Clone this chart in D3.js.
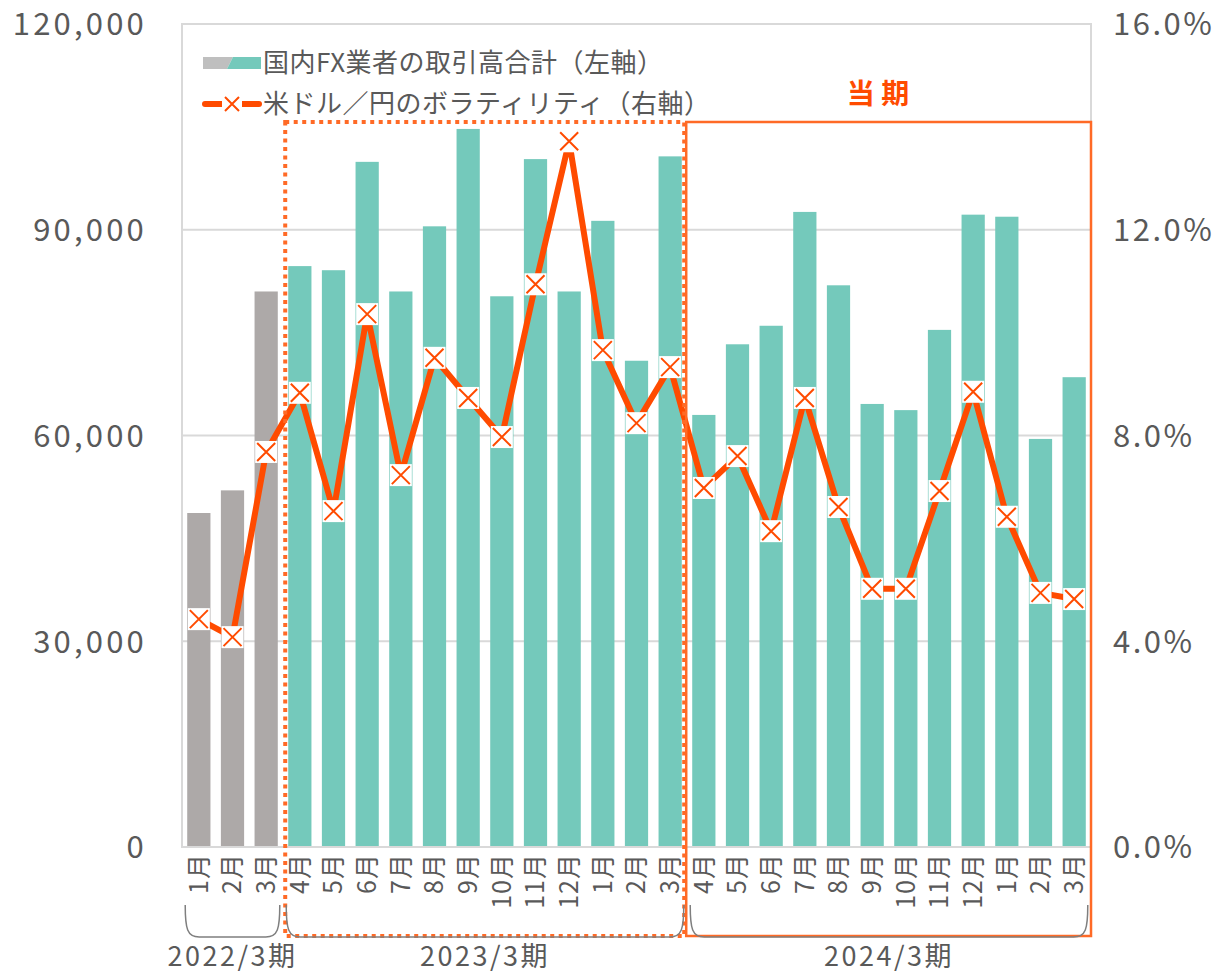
<!DOCTYPE html>
<html>
<head>
<meta charset="utf-8">
<script src="https://cdn.jsdelivr.net/npm/d3@7"></script>
<style>
  body { margin: 0; background: #fff; }
  svg text { font-family: "Noto Sans CJK JP", "Noto Sans", sans-serif; fill: #595959; }
</style>
</head>
<body>
<svg id="chart" width="1217" height="974"></svg>
<script>
// data
const months = ["1月","2月","3月","4月","5月","6月","7月","8月","9月","10月","11月","12月","1月","2月","3月",
                "4月","5月","6月","7月","8月","9月","10月","11月","12月","1月","2月","3月"];
const volume = [48700, 52000, 81000, 84700, 84100, 99900, 81000, 90500, 104700, 80300, 100300, 81000, 91300, 70900, 100700,
                63000, 73300, 76000, 92600, 81900, 64600, 63700, 75400, 92200, 91900, 59500, 68500];
const volatility = [4.43, 4.08, 7.68, 8.83, 6.53, 10.36, 7.23, 9.51, 8.73, 7.97, 10.94, 13.72, 9.66, 8.24, 9.33,
                    6.98, 7.60, 6.14, 8.73, 6.61, 5.02, 5.02, 6.92, 8.85, 6.42, 4.94, 4.82];
const periods = ["2022/3期", "2023/3期", "2024/3期"];
const periodStart = [0, 3, 15];
const periodEnd = [2, 14, 26];
const leftTicks = [0, 30000, 60000, 90000, 120000];
const rightTicks = [0, 4, 8, 12, 16];
const legendLabels = ["国内FX業者の取引高合計（左軸）", "米ドル／円のボラティリティ（右軸）"];

(function(){
  const margin = {top: 24, right: 126, bottom: 127, left: 182};
  const width = 1217 - margin.left - margin.right,
        height = 974 - margin.top - margin.bottom;

  const teal = "#74C9BB", grey = "#ADA9A8", orange = "#FF4B00", boxOrange = "#FF6A26";

  const svg = d3.select("#chart")
    .append("g")
    .attr("transform", "translate(" + margin.left + "," + margin.top + ")");

  const idx = d3.range(months.length);
  const xScale = d3.scaleBand().domain(idx).range([0, width]).paddingInner(0.31).paddingOuter(0.155);
  const yScale = d3.scaleLinear().domain([0, 120000]).range([height, 0]);
  const y2Scale = d3.scaleLinear().domain([0, 16]).range([height, 0]);

  // gridlines
  svg.selectAll(".grid")
    .data(leftTicks.slice(1, -1))
    .enter().append("line")
      .attr("x1", 0).attr("x2", width)
      .attr("y1", d => yScale(d)).attr("y2", d => yScale(d))
      .attr("stroke", "#d9d9d9").attr("stroke-width", 2);

  // plot frame
  svg.append("rect")
    .attr("width", width).attr("height", height)
    .attr("fill", "none").attr("stroke", "#d9d9d9").attr("stroke-width", 2);

  // left axis
  const yAxis = d3.axisLeft(yScale).tickValues(leftTicks).tickSize(0).tickPadding(35)
    .tickFormat(d3.format(","));
  svg.append("g").call(yAxis)
    .call(g => g.select(".domain").remove())
    .selectAll("text").style("font-size", "31px").style("letter-spacing", "3.2px")
      .attr("fill", "#595959").attr("dy", "0.35em");

  // right axis
  const y2Axis = d3.axisRight(y2Scale).tickValues(rightTicks).tickSize(0).tickPadding(22)
    .tickFormat(d => d.toFixed(1) + "%");
  svg.append("g").attr("transform", "translate(" + width + ",0)").call(y2Axis)
    .call(g => g.select(".domain").remove())
    .selectAll("text").style("font-size", "31px").style("letter-spacing", "2.5px")
      .attr("fill", "#595959").attr("dy", "0.35em");

  // bars
  svg.selectAll(".bar")
    .data(idx)
    .enter().append("rect")
      .attr("x", i => xScale(i))
      .attr("width", xScale.bandwidth())
      .attr("y", i => yScale(volume[i]))
      .attr("height", i => height - yScale(volume[i]))
      .attr("fill", i => i < 3 ? grey : teal);

  // x axis line
  svg.append("line").attr("x1", 0).attr("x2", width).attr("y1", height).attr("y2", height)
    .attr("stroke", "#d9d9d9").attr("stroke-width", 2);

  // month labels (rotated)
  svg.selectAll(".month")
    .data(idx)
    .enter().append("text")
      .attr("transform", i => "translate(" + (xScale(i) + xScale.bandwidth() / 2) + "," + (height + 6) + ") rotate(-90)")
      .attr("text-anchor", "end")
      .attr("dy", "0.35em")
      .style("font-size", "25px")
      .style("letter-spacing", "1px")
      .text(i => months[i]);

  // volatility line
  const line = d3.line()
    .x(i => xScale(i) + xScale.bandwidth() / 2)
    .y(i => y2Scale(volatility[i]));
  svg.append("path")
    .datum(idx)
    .attr("d", line)
    .attr("fill", "none").attr("stroke", orange).attr("stroke-width", 6).attr("stroke-linejoin", "miter");

  const mk = svg.selectAll(".mk")
    .data(idx)
    .enter().append("g")
      .attr("transform", i => "translate(" + (xScale(i) + xScale.bandwidth() / 2) + "," + y2Scale(volatility[i]) + ")");
  mk.append("rect").attr("x", -11).attr("y", -11).attr("width", 22).attr("height", 22).attr("fill", "#fff");
  mk.append("path").attr("d", "M-9,-9L9,9M9,-9L-9,9").attr("stroke", orange).attr("stroke-width", 2);

  // period boxes
  const boxTop = 122 - margin.top, boxBottom = 936 - margin.top;
  const leftEdge = xScale(3) - 3, midEdge = xScale(15) - 6;
  svg.append("rect")
    .attr("x", leftEdge).attr("y", boxTop)
    .attr("width", midEdge - leftEdge - 2).attr("height", boxBottom - boxTop)
    .attr("fill", "none").attr("stroke", boxOrange).attr("stroke-width", 4).attr("stroke-dasharray", "4,4.5");
  svg.append("rect")
    .attr("x", midEdge).attr("y", boxTop)
    .attr("width", width - midEdge).attr("height", boxBottom - boxTop)
    .attr("fill", "none").attr("stroke", boxOrange).attr("stroke-width", 2.5);

  svg.append("text")
    .attr("x", 878 - margin.left).attr("y", 104 - margin.top)
    .attr("text-anchor", "middle")
    .style("font-size", "28px").style("font-weight", "bold").style("fill", orange)
    .text("当 期");

  // period brackets
  const bTop = 905 - margin.top, bBot = 937 - margin.top;
  periods.forEach((p, k) => {
    const x0 = xScale(periodStart[k]) - 2, x1 = xScale(periodEnd[k]) + xScale.bandwidth() + 2;
    const path = d3.path();
    path.moveTo(x0, bTop);
    path.bezierCurveTo(x0, bBot - 8, x0 + 2, bBot, x0 + 14, bBot);
    path.lineTo(x1 - 14, bBot);
    path.bezierCurveTo(x1 - 2, bBot, x1, bBot - 8, x1, bTop);
    svg.append("path").attr("d", path.toString())
      .attr("fill", "none").attr("stroke", "#7f7f7f").attr("stroke-width", 1.5);
    svg.append("text")
      .attr("x", (x0 + x1) / 2).attr("y", 966 - margin.top)
      .attr("text-anchor", "middle")
      .style("font-size", "27px")
      .style("letter-spacing", "2.5px")
      .text(p);
  });

  // legend
  const lg = svg.append("g").attr("transform", "translate(" + (203 - margin.left) + "," + (63 - margin.top) + ")");
  lg.append("path").attr("d", "M0,-6H30L24,6H0Z").attr("fill", "#BFBFBF");
  lg.append("path").attr("d", "M30,-6H58V6H24Z").attr("fill", teal);
  lg.append("text").attr("x", 60).attr("dy", "0.35em").style("font-size", "26px").style("letter-spacing", "0.5px").text(legendLabels[0]);
  const lg2 = lg.append("g").attr("transform", "translate(0,41)");
  lg2.append("line").attr("x1", 2).attr("x2", 56).attr("stroke", orange).attr("stroke-width", 6).attr("stroke-linecap", "round");
  lg2.append("rect").attr("x", 19).attr("y", -8).attr("width", 20).attr("height", 16).attr("fill", "#fff");
  lg2.append("path").attr("d", "M22,-7L36,7M36,-7L22,7").attr("stroke", orange).attr("stroke-width", 2);
  lg2.append("text").attr("x", 60).attr("dy", "0.35em").style("font-size", "26px").style("letter-spacing", "0.5px").text(legendLabels[1]);
})();
</script>
</body>
</html>
